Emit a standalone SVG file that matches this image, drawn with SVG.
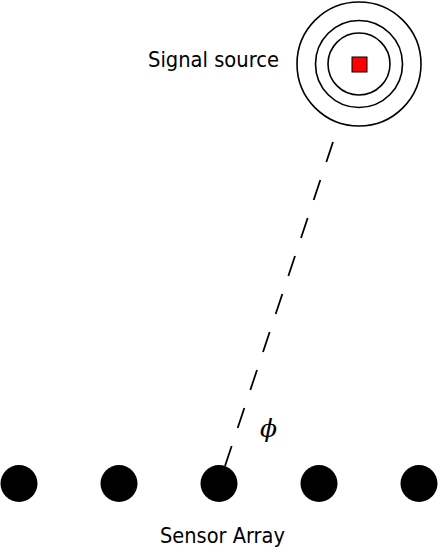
<svg xmlns="http://www.w3.org/2000/svg" width="441" height="548" viewBox="0 0 441 548">
<style>
.ring{fill:none;stroke:#000;stroke-width:1.6}
.sensor{fill:#000}
.lbl{font-family:"DejaVu Sans","Liberation Sans",sans-serif;font-size:22px;fill:#000}
</style>
<rect width="441" height="548" fill="#fff"/>
<g id="source">
<circle class="ring" cx="359" cy="64" r="62"/>
<circle class="ring" cx="359" cy="64" r="43.5"/>
<circle class="ring" cx="359" cy="64" r="31"/>
<rect x="352" y="57" width="15" height="15" fill="#ff0000" stroke="#000" stroke-width="1"/>
<text class="lbl" x="148" y="67" textLength="131" lengthAdjust="spacingAndGlyphs">Signal source</text>
</g>
<g id="connectors">
<line x1="333" y1="142" x2="225" y2="466" stroke="#000" stroke-width="1.8" stroke-dasharray="21.1,18.95"/>
</g>
<g id="angle">
<text x="260" y="437" font-family="DejaVu Serif,serif" font-style="italic" font-size="25" fill="#000">ϕ</text>
</g>
<g id="sensors">
<circle class="sensor" cx="19" cy="483.5" r="18.5"/>
<circle class="sensor" cx="119" cy="483.5" r="18.5"/>
<circle class="sensor" cx="219" cy="483.5" r="18.5"/>
<circle class="sensor" cx="319" cy="483.5" r="18.5"/>
<circle class="sensor" cx="419" cy="483.5" r="18.5"/>
<text class="lbl" x="160" y="542.5" textLength="125" lengthAdjust="spacingAndGlyphs">Sensor Array</text>
</g>
</svg>
